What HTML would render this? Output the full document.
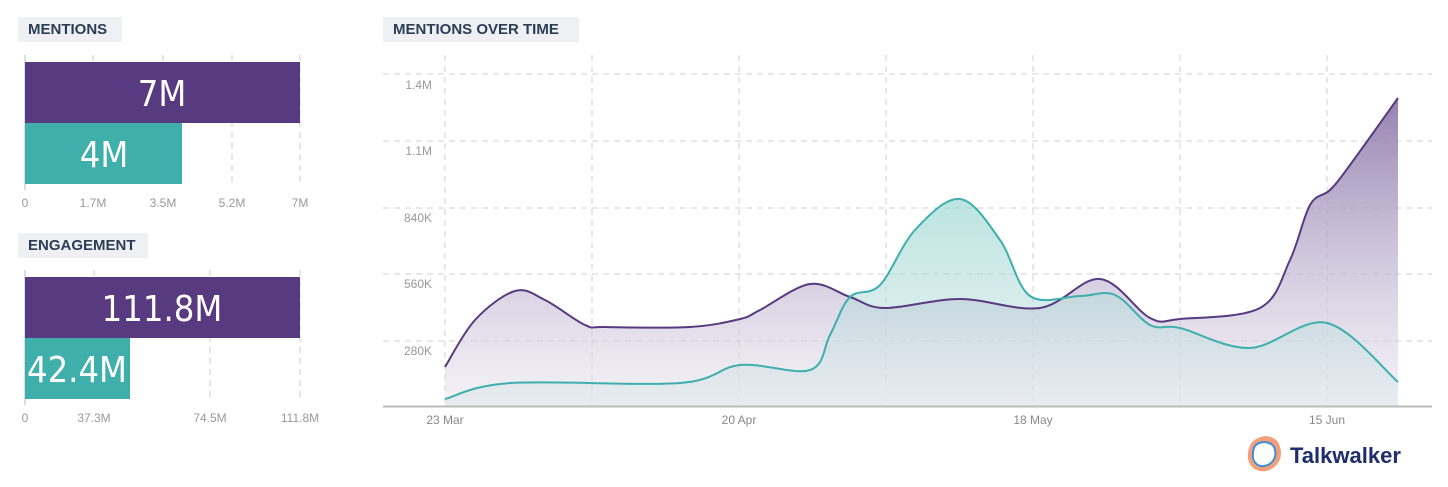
<!DOCTYPE html>
<html><head><meta charset="utf-8"><style>
body{margin:0;background:#fff;width:1448px;height:487px;overflow:hidden;font-family:"Liberation Sans",sans-serif}
.lbl{position:absolute;background:#eef0f3;color:#2c3e57;font-weight:bold;font-size:15px;line-height:25px;padding:0 10px}
</style></head><body>
<div class="lbl" style="left:18px;top:17px;width:84px">MENTIONS</div>
<div class="lbl" style="left:18px;top:233px;width:110px">ENGAGEMENT</div>
<div class="lbl" style="left:383px;top:17px;width:176px">MENTIONS OVER TIME</div>
<svg width="1448" height="487" style="position:absolute;left:0;top:0" font-family="Liberation Sans, sans-serif">
<defs>
<linearGradient id="gp" x1="0" y1="0" x2="0" y2="1"><stop offset="0" stop-color="#8a73a8" stop-opacity="0.9"/><stop offset="1" stop-color="#e9e6ef" stop-opacity="0.5"/></linearGradient>
<linearGradient id="gt" x1="0" y1="0" x2="0" y2="1"><stop offset="0" stop-color="#8fd3cc" stop-opacity="0.6"/><stop offset="1" stop-color="#dde6ec" stop-opacity="0.5"/></linearGradient>
</defs>
<g stroke="#ccc" stroke-dasharray="6,5" stroke-width="1">
<line x1="93" y1="55" x2="93" y2="184"/><line x1="163" y1="55" x2="163" y2="184"/><line x1="232" y1="55" x2="232" y2="184"/><line x1="300" y1="55" x2="300" y2="184"/>
<line x1="94" y1="270" x2="94" y2="399"/><line x1="210" y1="270" x2="210" y2="399"/><line x1="300" y1="270" x2="300" y2="399"/>
</g>
<line x1="25" y1="55" x2="25" y2="190" stroke="#bbb"/>
<line x1="25" y1="270" x2="25" y2="405" stroke="#bbb"/>
<rect x="25" y="62" width="275" height="61" fill="#573a7f"/>
<rect x="25" y="123" width="157" height="61" fill="#3fafac"/>
<rect x="25" y="277" width="275" height="61" fill="#573a7f"/>
<rect x="25" y="338" width="105" height="61" fill="#3fafac"/>
<g fill="#fff" font-size="36" text-anchor="middle" font-family="DejaVu Sans Condensed, DejaVu Sans, sans-serif">
<text x="162" y="106">7M</text><text x="104" y="167">4M</text>
<text x="162" y="321">111.8M</text><text x="77" y="382">42.4M</text></g>
<g fill="#999" font-size="12" text-anchor="middle">
<text x="25" y="207">0</text><text x="93" y="207">1.7M</text><text x="163" y="207">3.5M</text><text x="232" y="207">5.2M</text><text x="300" y="207">7M</text>
<text x="25" y="422">0</text><text x="94" y="422">37.3M</text><text x="210" y="422">74.5M</text><text x="300" y="422">111.8M</text>
</g>
<g stroke="#d2d2d2" stroke-dasharray="6,5">
<line x1="383" y1="74" x2="1432" y2="74"/><line x1="383" y1="141" x2="1432" y2="141"/><line x1="383" y1="208" x2="1432" y2="208"/><line x1="383" y1="274" x2="1432" y2="274"/><line x1="383" y1="341" x2="1432" y2="341"/>
<line x1="445" y1="55" x2="445" y2="406"/><line x1="592" y1="55" x2="592" y2="406"/><line x1="739" y1="55" x2="739" y2="406"/><line x1="886" y1="55" x2="886" y2="406"/><line x1="1033" y1="55" x2="1033" y2="406"/><line x1="1180" y1="55" x2="1180" y2="406"/><line x1="1327" y1="55" x2="1327" y2="406"/>
</g>
<g fill="#999" font-size="12" text-anchor="end">
<text x="432" y="89">1.4M</text><text x="432" y="155">1.1M</text><text x="432" y="222">840K</text><text x="432" y="288">560K</text><text x="432" y="355">280K</text></g>
<path id="pa" fill="url(#gp)"/><path id="ta" fill="url(#gt)"/>
<path id="pl" fill="none" stroke="#573a7f" stroke-width="2"/>
<path id="tl" fill="none" stroke="#3fafac" stroke-width="2"/>
<line x1="383" y1="406.5" x2="1432" y2="406.5" stroke="#bbb" stroke-width="2"/>
<g fill="#888" font-size="12" text-anchor="middle">
<text x="445" y="424">23 Mar</text><text x="739" y="424">20 Apr</text><text x="1033" y="424">18 May</text><text x="1327" y="424">15 Jun</text></g>
<g transform="translate(1248,437)">
<path d="M8,2 C18,-4 30,0 32,10 C36,22 28,32 18,34 C8,36 -2,28 0,16 C1,9 3,5 8,2Z" fill="#f3a07a"/>
<path d="M9,7 C17,3 26,6 27,13 C29,22 23,28 16,29 C9,30 4,24 5,17 C5,12 6,9 9,7Z" fill="#fff" stroke="#3c8fd8" stroke-width="2"/>
<text x="42" y="26" font-size="22" font-weight="bold" fill="#1f2d6b">Talkwalker</text>
</g>
</svg>
<script>
function cr(p){let d="M"+p[0][0]+","+p[0][1];for(let i=0;i<p.length-1;i++){const a=p[i-1]||p[i],b=p[i],c=p[i+1],e=p[i+2]||c;const k=6;d+=" C"+(b[0]+(c[0]-a[0])/k)+","+(b[1]+(c[1]-a[1])/k)+" "+(c[0]-(e[0]-b[0])/k)+","+(c[1]-(e[1]-b[1])/k)+" "+c[0]+","+c[1];}return d;}
const P=[[445,367],[475,320],[515,291],[545,300],[585,325],[605,327],[690,327],[740,319],[760,310],[810,284],[850,297],[885,308],[960,299],[1040,308],[1100,279],[1150,318],[1180,319],[1260,308],[1290,260],[1310,205],[1330,190],[1350,165],[1398,98]];
const T=[[445,399],[510,383],[680,383],[740,365],[810,370],[830,335],[850,297],[880,285],[915,230],[960,199],[1000,240],[1030,296],[1080,296],[1115,295],[1150,325],[1180,328],[1250,348],[1327,323],[1398,382]];
const a=cr(P),b=cr(T);
document.getElementById('pl').setAttribute('d',a);
document.getElementById('tl').setAttribute('d',b);
document.getElementById('pa').setAttribute('d',a+" L1398,406 L445,406Z");
document.getElementById('ta').setAttribute('d',b+" L1398,406 L445,406Z");
</script>
</body></html>
